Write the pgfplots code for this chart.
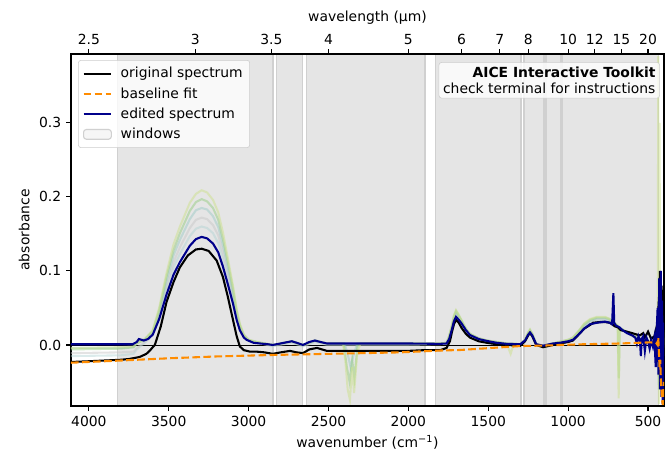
\documentclass[border=0pt]{standalone}
\usepackage{fontspec}
\setmainfont{DejaVu Sans}
\usepackage{pgfplots}
\pgfplotsset{compat=1.18}
\definecolor{navyb}{RGB}{0,0,139}
\definecolor{dorange}{RGB}{255,140,0}
\definecolor{winfill}{RGB}{229,229,229}
\definecolor{winedge}{RGB}{208,208,208}
\definecolor{fyg}{RGB}{205,225,140}
\definecolor{flg}{RGB}{150,205,130}
\definecolor{ftl}{RGB}{150,200,195}
\definecolor{fgr}{RGB}{200,200,200}
\definecolor{ftg}{RGB}{175,210,210}
\begin{document}
\begin{tikzpicture}
\useasboundingbox (-51.1pt,-33.8pt) rectangle (427.7pt,292.3pt);
\begin{axis}[
  scale only axis, width=427pt, height=253.4pt,
  x dir=reverse, xmin=400, xmax=4112, ymin=-0.0824, ymax=0.393,
  xtick={500,1000,1500,2000,2500,3000,3500,4000},
  ytick={0,0.1,0.2,0.3},
  xtick pos=left, ytick pos=left,
  tick align=outside, major tick length=3.5pt,
  every tick/.style={black, line width=0.8pt},
  axis line style={line width=0.8pt},
  /pgf/number format/assume math mode=true,
  scaled ticks=false,
  yticklabel style={/pgf/number format/.cd, fixed, fixed zerofill, precision=1},
  xticklabel style={/pgf/number format/.cd, 1000 sep={}},
  xlabel={wavenumber (cm\textsuperscript{−1})},
  ylabel={absorbance},
  legend cell align=left,
  legend style={at={(rel axis cs:0.012,0.983)}, anchor=north west,
    draw=black!20, rounded corners=2pt, fill=white, fill opacity=0.8, text opacity=1,
    row sep=1.5pt, inner sep=3pt},
  legend image code/.code={\draw[#1] (0pt,0pt) -- (20pt,0pt); \path (24pt,0pt);},
]
% windows
\addplot[fill=winfill, draw=winedge, line width=1.1pt, forget plot] coordinates {(3820,-0.2) (3820,0.5) (2849,0.5) (2849,-0.2)} -- cycle;
\addplot[fill=winfill, draw=winedge, line width=1.1pt, forget plot] coordinates {(2825,-0.2) (2825,0.5) (2662,0.5) (2662,-0.2)} -- cycle;
\addplot[fill=winfill, draw=winedge, line width=1.1pt, forget plot] coordinates {(2638,-0.2) (2638,0.5) (1896,0.5) (1896,-0.2)} -- cycle;
\addplot[fill=winfill, draw=winedge, line width=1.1pt, forget plot] coordinates {(1830,-0.2) (1830,0.5) (1296,0.5) (1296,-0.2)} -- cycle;
\addplot[fill=winfill, draw=winedge, line width=1.1pt, forget plot] coordinates {(1277,-0.2) (1277,0.5) (1152,0.5) (1152,-0.2)} -- cycle;
\addplot[fill=winfill, draw=winedge, line width=1.1pt, forget plot] coordinates {(1140,-0.2) (1140,0.5) (1045,0.5) (1045,-0.2)} -- cycle;
\addplot[fill=winfill, draw=winedge, line width=1.1pt, forget plot] coordinates {(1035,-0.2) (1035,0.5) (436,0.5) (436,-0.2)} -- cycle;
% zero line
\addplot[black, line width=0.6pt, forget plot] coordinates {(400,0) (4112,0)};
% faint intermediate spectra
\addplot[ftg, opacity=0.45, line width=1.5pt, forget plot] coordinates {
(4112,-0.015) (3800,-0.014) (3720,-0.012) (3700,-0.006) (3650,0.003) (3600,0.013) (3560,0.036) (3514,0.075) (3470,0.105) (3430,0.123) (3368,0.147) (3330,0.157) (3294,0.160) (3260,0.158) (3223,0.151) (3190,0.1375) (3161,0.117) (3130,0.090) (3098,0.062) (3075,0.037) (3055,0.022) (3030,0.011) (3000,0.005) (2950,0.003)
(2900,0.001) (2849,-0.002) (2800,0.000) (2730,0.003) (2660,-0.002) (2585,0.004) (2510,0.000) (2000,0.000) (1800,0.001) (1760,0.002) (1745,0.009) (1729,0.021) (1715,0.033) (1702,0.040) (1685,0.036) (1667,0.030) (1640,0.020) (1615,0.014) (1560,0.008) (1510,0.005) (1385,0.001) (1300,0.000) (1270,0.006) (1250,0.015) (1239,0.018) (1225,0.014) (1200,0.000) (1157,-0.002) (1095,0.001) (1000,0.005) (970,0.008) (930,0.017) (900,0.025) (863,0.031) (820,0.033) (769,0.033) (740,0.031) (700,0.026) (660,0.020) (632,0.016) (600,0.012) (551,0.007) (500,0.004) (460,0.003) (440,0.0) (430,-0.03) (420,0.02) (400,0.0)};
\addplot[fgr, opacity=0.5, line width=1.5pt, forget plot] coordinates {
(4112,-0.011) (3800,-0.010) (3720,-0.009) (3700,-0.004) (3650,0.004) (3600,0.016) (3560,0.041) (3514,0.080) (3470,0.112) (3430,0.132) (3368,0.158) (3330,0.169) (3294,0.172) (3260,0.170) (3223,0.162) (3190,0.148) (3161,0.125) (3130,0.097) (3098,0.066) (3075,0.040) (3055,0.024) (3030,0.012) (3000,0.006) (2950,0.0035)
(2900,0.001) (2849,-0.001) (2800,0.001) (2730,0.004) (2660,-0.001) (2585,0.005) (2510,0.001) (2000,0.001) (1800,0.002) (1760,0.003) (1745,0.010) (1729,0.022) (1715,0.035) (1702,0.042) (1685,0.037) (1667,0.031) (1640,0.021) (1615,0.014) (1560,0.009) (1510,0.006) (1385,0.002) (1300,0.001) (1270,0.007) (1250,0.016) (1239,0.019) (1225,0.015) (1200,0.001) (1157,-0.001) (1095,0.002) (1000,0.006) (970,0.009) (930,0.018) (900,0.026) (863,0.032) (820,0.035) (769,0.035) (740,0.033) (700,0.027) (660,0.021) (632,0.017) (600,0.013) (551,0.008) (500,0.005) (460,0.004) (440,0.0) (430,0.04) (420,-0.03) (400,0.01)};
\addplot[ftl, opacity=0.45, line width=1.5pt, forget plot] coordinates {
(4112,-0.004) (3800,-0.004) (3720,-0.003) (3700,0.003) (3650,0.008) (3600,0.018) (3560,0.044) (3514,0.086) (3470,0.121) (3430,0.142) (3368,0.170) (3330,0.182) (3294,0.185) (3260,0.183) (3223,0.174) (3190,0.159) (3161,0.135) (3130,0.104) (3098,0.071) (3075,0.043) (3055,0.025) (3030,0.013) (3000,0.006) (2950,0.004)
(2900,0.002) (2849,0.000) (2800,0.002) (2730,0.005) (2660,0.000) (2585,0.006) (2510,0.002) (2400,0.002) (2380,-0.012) (2362,-0.03) (2345,-0.015) (2320,0.002) (2000,0.002) (1800,0.002) (1760,0.003) (1745,0.011) (1729,0.024) (1715,0.037) (1702,0.044) (1685,0.039) (1667,0.032) (1640,0.021) (1615,0.015) (1560,0.009) (1510,0.006) (1385,0.002) (1300,0.001) (1270,0.007) (1250,0.016) (1239,0.020) (1225,0.015) (1200,0.001) (1157,-0.001) (1095,0.002) (1000,0.006) (970,0.009) (930,0.019) (900,0.027) (863,0.033) (820,0.036) (769,0.036) (740,0.034) (700,0.027) (660,0.021) (632,0.017) (600,0.013) (551,0.008) (500,0.005) (460,0.004) (440,0.0) (430,-0.05) (420,0.05) (400,0.0)};
\addplot[flg, opacity=0.5, line width=1.5pt, forget plot] coordinates {
(4112,-0.006) (3800,-0.005) (3720,-0.003) (3700,0.002) (3650,0.007) (3600,0.019) (3560,0.047) (3514,0.092) (3470,0.128) (3430,0.151) (3368,0.181) (3330,0.193) (3294,0.197) (3260,0.194) (3223,0.185) (3190,0.169) (3161,0.143) (3130,0.111) (3098,0.076) (3075,0.046) (3055,0.027) (3030,0.0135) (3000,0.007) (2950,0.004)
(2900,0.002) (2849,0.000) (2800,0.002) (2730,0.005) (2660,0.000) (2585,0.006) (2510,0.002) (2405,0.002) (2385,-0.03) (2368,-0.05) (2352,-0.02) (2338,-0.045) (2318,0.000) (2300,0.002) (2000,0.002) (1800,0.002) (1760,0.003) (1745,0.012) (1729,0.025) (1715,0.039) (1702,0.046) (1685,0.040) (1667,0.033) (1640,0.022) (1615,0.015) (1560,0.009) (1510,0.006) (1385,0.002) (1300,0.001) (1270,0.007) (1250,0.017) (1239,0.020) (1225,0.015) (1200,0.001) (1157,-0.001) (1095,0.002) (1000,0.007) (970,0.010) (930,0.020) (900,0.028) (863,0.034) (820,0.037) (769,0.037) (740,0.035) (700,0.028) (690,0.026) (683,-0.045) (677,0.022) (660,0.021) (632,0.017) (600,0.013) (551,0.008) (500,0.005) (460,0.004) (440,0.0) (432,-0.06) (425,0.05) (418,-0.04) (400,0.0)};
\addplot[fyg, opacity=0.5, line width=1.5pt, forget plot] coordinates {
(4112,-0.004) (3800,-0.003) (3720,-0.002) (3700,0.003) (3650,0.008) (3600,0.020) (3560,0.050) (3514,0.097) (3470,0.136) (3430,0.160) (3368,0.192) (3330,0.204) (3294,0.209) (3260,0.206) (3223,0.196) (3190,0.179) (3161,0.152) (3130,0.117) (3098,0.080) (3075,0.049) (3055,0.029) (3030,0.014) (3000,0.007) (2950,0.004)
(2900,0.002) (2849,0.000) (2800,0.002) (2730,0.005) (2660,0.000) (2585,0.006) (2510,0.002) (2410,0.002) (2395,-0.02) (2380,-0.06) (2366,-0.074) (2352,-0.03) (2340,-0.065) (2320,-0.01) (2300,0.002) (2000,0.002) (1800,0.002) (1760,0.003) (1745,0.012) (1729,0.026) (1715,0.040) (1702,0.047) (1685,0.041) (1667,0.033) (1640,0.022) (1615,0.015) (1560,0.009) (1510,0.006) (1385,0.002) (1360,-0.012) (1340,0.002) (1300,0.001) (1270,0.007) (1250,0.017) (1239,0.021) (1225,0.015) (1200,0.001) (1157,-0.001) (1095,0.002) (1000,0.007) (970,0.010) (930,0.020) (900,0.029) (863,0.035) (820,0.038) (769,0.038) (740,0.035) (700,0.028) (690,0.026) (684,-0.072) (678,0.022) (660,0.021) (632,0.017) (600,0.013) (551,0.008) (500,0.005) (460,0.004) (440,0.0) (436,0.39) (432,-0.08) (428,0.30) (424,-0.05) (420,0.10) (410,0.0) (400,0.02)};
% original spectrum
\addplot[black, line width=1.5pt, forget plot] coordinates {
(4112,-0.023) (4000,-0.022) (3900,-0.021) (3800,-0.020) (3750,-0.019) (3700,-0.017) (3680,-0.016) (3660,-0.014) (3640,-0.012) (3620,-0.008) (3600,-0.003) (3587,0.000) (3550,0.025) (3514,0.058) (3470,0.085) (3430,0.105) (3380,0.121) (3330,0.129) (3294,0.130) (3250,0.127) (3200,0.114) (3161,0.092) (3130,0.065) (3098,0.034) (3075,0.012) (3055,-0.002) (3030,-0.007) (2992,-0.009) (2950,-0.009) (2900,-0.010) (2849,-0.012) (2800,-0.010) (2741,-0.008) (2700,-0.010) (2660,-0.011) (2620,-0.006) (2572,-0.004) (2510,-0.008) (2400,-0.008) (2300,-0.008) (2200,-0.008) (2100,-0.008) (2000,-0.008) (1900,-0.007) (1800,-0.007) (1761,-0.004) (1740,0.005) (1729,0.016) (1715,0.028) (1702,0.034) (1685,0.030) (1667,0.023) (1640,0.015) (1615,0.010) (1560,0.005) (1510,0.003) (1450,0.001) (1385,0.000) (1300,-0.001) (1270,0.005) (1250,0.013) (1239,0.016) (1225,0.012) (1200,0.000) (1157,-0.003) (1095,0.000) (1051,0.002) (1000,0.004) (970,0.006) (930,0.015) (900,0.022) (863,0.027) (844,0.030) (800,0.031) (770,0.031) (738,0.030) (707,0.025) (690,0.024) (670,0.020) (632,0.018) (600,0.016) (570,0.014) (551,0.013) (530,0.016) (520,0.010) (500,0.018) (480,0.008) (460,0.012) (440,0.030) (430,0.070) (425,0.10) (420,0.05) (415,0.08) (410,0.02) (405,0.06) (400,0.04)};
% edited spectrum
\addplot[navyb, line width=1.5pt, forget plot] coordinates {
(4112,0.001) (4000,0.001) (3800,0.001) (3726,0.001) (3700,0.004) (3687,0.008) (3670,0.007) (3656,0.006) (3630,0.008) (3600,0.014) (3560,0.035) (3514,0.068) (3470,0.095) (3430,0.112) (3368,0.134) (3330,0.143) (3294,0.146) (3260,0.144) (3223,0.137) (3190,0.125) (3161,0.106) (3130,0.082) (3098,0.056) (3075,0.034) (3055,0.020) (3030,0.010) (3013,0.007) (2970,0.003) (2929,0.002) (2880,0.001) (2849,0.000) (2800,0.002) (2730,0.005) (2700,0.003) (2660,0.000) (2620,0.004) (2585,0.006) (2550,0.004) (2510,0.002) (2300,0.002) (2000,0.002) (1803,0.0015) (1761,0.002) (1745,0.008) (1729,0.020) (1715,0.032) (1702,0.038) (1685,0.034) (1667,0.029) (1640,0.020) (1615,0.0135) (1560,0.008) (1510,0.0055) (1450,0.003) (1385,0.0015) (1300,0.001) (1270,0.006) (1250,0.014) (1239,0.017) (1225,0.013) (1200,0.001) (1157,-0.001) (1095,0.002) (1051,0.003) (1000,0.005) (970,0.007) (930,0.015) (900,0.022) (863,0.028) (820,0.030) (769,0.0315) (740,0.030) (725,0.028) (717,0.070) (712,0.030) (700,0.026) (680,0.024) (660,0.020) (632,0.016) (600,0.013) (580,0.010) (570,0.002) (560,0.012) (551,0.007) (545,-0.015) (540,0.008) (530,0.012) (520,-0.008) (510,0.010) (500,0.005) (490,-0.005) (480,0.006) (470,-0.002) (460,0.010) (452,-0.030) (446,0.020) (440,0.050) (435,-0.040) (430,0.090) (425,-0.060) (420,0.100) (416,-0.070) (412,0.060) (408,-0.080) (404,0.030) (400,-0.020)};
% baseline fit
\addplot[dorange, line width=1.5pt, dash pattern=on 5.55pt off 2.4pt, forget plot] coordinates {
(4112,-0.024) (3800,-0.021) (3500,-0.018) (3200,-0.0155) (2849,-0.0135) (2500,-0.012) (2053,-0.010) (1800,-0.0075) (1677,-0.0068) (1514,-0.0045) (1302,-0.0015) (1100,-0.0005) (1051,0.0) (900,0.001) (676,0.002) (488,0.0035) (450,0.003) (440,0.0) (436,0.01) (432,-0.01) (428,-0.03) (424,-0.02) (420,-0.045) (416,-0.06) (412,-0.075) (408,-0.08) (400,-0.05)};
% legend
\addlegendimage{black, line width=1.5pt}
\addlegendentry{original spectrum}
\addlegendimage{dorange, line width=1.5pt, dash pattern=on 5.55pt off 2.4pt}
\addlegendentry{baseline fit}
\addlegendimage{navyb, line width=1.5pt}
\addlegendentry{edited spectrum}
\addlegendimage{legend image code/.code={\draw[fill=white!92!gray, draw=winedge, line width=0.8pt] (0pt,-3.5pt) rectangle (20pt,3.5pt); \path (24pt,0pt);}}
\addlegendentry{windows}
\node[anchor=north east, draw=black!20, rounded corners=2pt, fill=white, fill opacity=0.8, text opacity=1, align=right, inner sep=3pt] at (rel axis cs:0.993,0.977) {\textbf{AICE Interactive Toolkit}\\check terminal for instructions};
\end{axis}
\begin{axis}[
  scale only axis, width=427pt, height=253.4pt,
  x dir=reverse, xmin=400, xmax=4112, ymin=0, ymax=1,
  hide y axis,
  xtick pos=right, xticklabel pos=right,
  tick align=outside, major tick length=3.5pt,
  every tick/.style={black, line width=0.8pt},
  axis line style={line width=0.8pt},
  xtick={4000,3333.33,2857.14,2500,2000,1666.67,1428.57,1250,1000,833.33,666.67,500},
  xticklabels={2.5,3,3.5,4,5,6,7,8,10,12,15,20},
  xlabel={wavelength (µm)},
]
\end{axis}
\end{tikzpicture}
\end{document}
